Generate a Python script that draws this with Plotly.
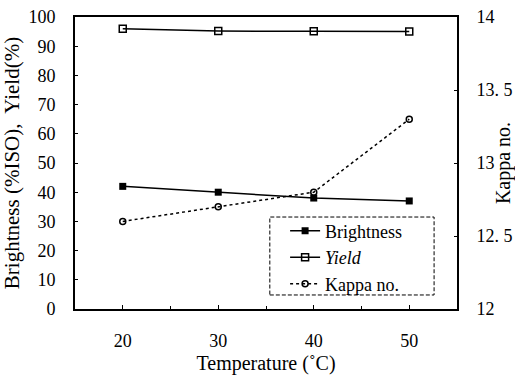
import plotly.graph_objects as go

temperature = [20, 30, 40, 50]
brightness = [42, 40, 38, 37]
yield_pct = [96, 95.2, 95.1, 95]
kappa = [12.6, 12.7, 12.8, 13.3]

left_ticks = [0, 10, 20, 30, 40, 50, 60, 70, 80, 90, 100]
right_ticks = [12, 12.5, 13, 13.5, 14]
right_labels = ["12", "12. 5", "13", "13. 5", "14"]
x_ticks = [20, 30, 40, 50]

FONT = "Liberation Serif, serif"

fig = go.Figure()
fig.add_trace(go.Scatter(x=temperature, y=brightness, name="Brightness",
                         mode="lines+markers",
                         line=dict(color="black", width=1.5),
                         marker=dict(symbol="square", size=7, color="black")))
fig.add_trace(go.Scatter(x=temperature, y=yield_pct, name="<i>Yield</i>",
                         mode="lines+markers",
                         line=dict(color="black", width=1.5),
                         marker=dict(symbol="square-open", size=7, color="black",
                                     line=dict(width=1.5))))
fig.add_trace(go.Scatter(x=temperature, y=kappa, name="Kappa no.",
                         mode="lines+markers", yaxis="y2",
                         line=dict(color="black", width=1.5, dash="dot"),
                         marker=dict(symbol="circle-open", size=6, color="black",
                                     line=dict(width=1.5))))

# dashed legend frame
fig.add_shape(type="rect", xref="paper", yref="paper",
              x0=0.51, x1=0.94, y0=0.048, y1=0.315,
              line=dict(color="black", width=1, dash="4px,2px"))

fig.update_layout(
    width=515, height=378,
    margin=dict(l=75, r=58, t=17, b=69, autoexpand=False),
    paper_bgcolor="white", plot_bgcolor="white",
    font=dict(family=FONT, size=18, color="black"),
    showlegend=True,
    legend=dict(x=0.55, y=0.33, xanchor="left", yanchor="top",
                bgcolor="rgba(0,0,0,0)", borderwidth=0,
                font=dict(family=FONT, size=18), tracegroupgap=0,
                itemwidth=30),
    xaxis=dict(range=[15, 55], tickvals=x_ticks, ticks="inside", ticklen=4,
               showline=True, linecolor="black", linewidth=2, mirror=True,
               showgrid=False, zeroline=False, ticklabelstandoff=14,
               automargin=False,
               title=dict(text="Temperature (˚C)", standoff=6, font=dict(size=20)),
               minor=dict(tickvals=[25, 35, 45], ticks="inside", ticklen=3, tickcolor="black"),
               tickcolor="black"),
    yaxis=dict(range=[0, 100], tickvals=left_ticks, ticks="inside", ticklen=3,
               showline=True, linecolor="black", linewidth=2, mirror=True,
               showgrid=False, zeroline=False, tickcolor="black",
               ticklabelstandoff=14, automargin=False,
               title=dict(text="Brightness (%ISO),  Yield(%)", standoff=10,
                          font=dict(size=21))),
    yaxis2=dict(range=[12, 14], tickvals=right_ticks, ticktext=right_labels,
                overlaying="y", side="right", ticks="inside", ticklen=3,
                showgrid=False, zeroline=False, tickcolor="black",
                showline=True, linecolor="black", linewidth=2,
                ticklabelstandoff=14, automargin=False,
                title=dict(text="Kappa no.", standoff=4, font=dict(size=20))),
)

fig.write_html("out.html",
               config={"displayModeBar": False},
               post_script="document.body.style.margin='0';"
                           "document.body.style.overflow='hidden';")
